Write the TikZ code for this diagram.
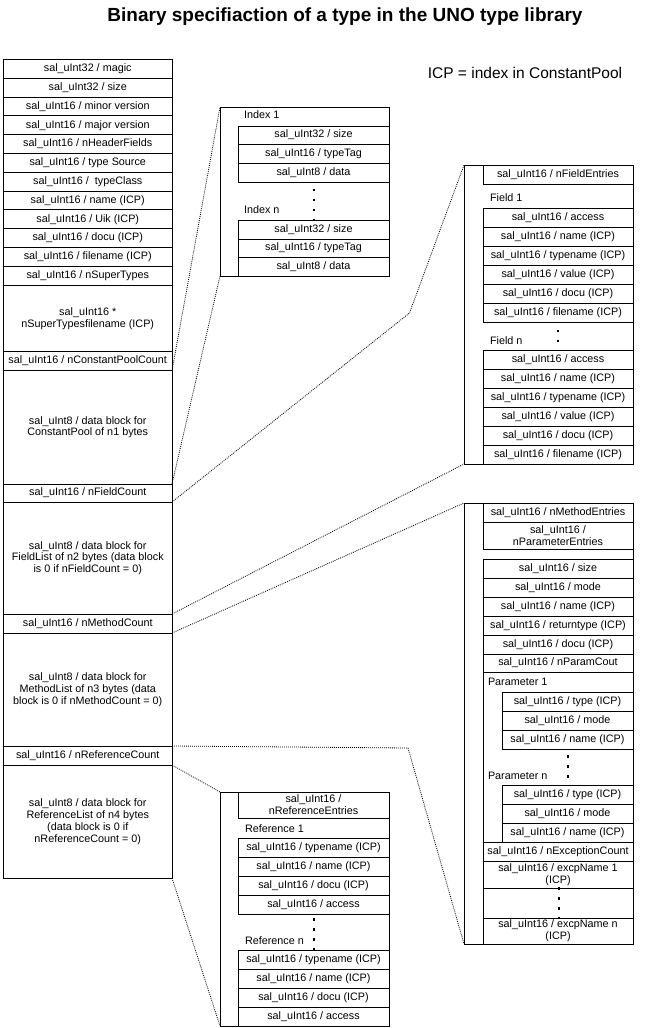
\documentclass[tikz,border=0pt]{standalone}
\usepackage{fontspec}
\setmainfont{Liberation Sans}
\newcommand{\cellbox}[6]{%
  \pgfmathsetmacro{\mycw}{#4-#2}\pgfmathsetmacro{\mych}{#5-#3}%
  \node[cell, minimum width=\mycw pt, minimum height=\mych pt, anchor=north west] (#1) at (#2,#3) {#6};}
\begin{document}
\begin{tikzpicture}[x=1pt,y=-1pt,
  every node/.style={font=\fontsize{10.8}{11.8}\selectfont, inner sep=0pt, outer sep=0pt},
  cell/.style={draw, line width=0.9pt, align=center},
  lbl/.style={anchor=west},
  conn/.style={line width=0.8pt, dash pattern=on 0.9pt off 1.1pt},
  vdots/.style={line width=2pt, dash pattern=on 2.5pt off 7.5pt}]
\useasboundingbox (0,0) rectangle (664,1028);

% titles
\node[font=\bfseries\fontsize{19}{22}\selectfont] (title) at (345,17) {Binary specifiaction of a type in the UNO type library};
\node[font=\fontsize{15.5}{18}\selectfont] (icp) at (525,73) {ICP = index in ConstantPool};

% left column
\cellbox{magic}{3.5}{59.5}{172}{78.3}{sal\_uInt32 / magic}
\cellbox{size}{3.5}{78.3}{172}{97.1}{sal\_uInt32 / size}
\cellbox{minor}{3.5}{97.1}{172}{115.9}{sal\_uInt16 / minor version}
\cellbox{major}{3.5}{115.9}{172}{134.7}{sal\_uInt16 / major version}
\cellbox{nhf}{3.5}{134.7}{172}{153.5}{sal\_uInt16 / nHeaderFields}
\cellbox{tsrc}{3.5}{153.5}{172}{172.3}{sal\_uInt16 / type Source}
\cellbox{tcls}{3.5}{172.3}{172}{191.1}{sal\_uInt16 /\ \ typeClass}
\cellbox{name}{3.5}{191.1}{172}{209.9}{sal\_uInt16 / name (ICP)}
\cellbox{uik}{3.5}{209.9}{172}{228.7}{sal\_uInt16 / Uik (ICP)}
\cellbox{docu}{3.5}{228.7}{172}{247.5}{sal\_uInt16 / docu (ICP)}
\cellbox{fname}{3.5}{247.5}{172}{266.3}{sal\_uInt16 / filename (ICP)}
\cellbox{nst}{3.5}{266.3}{172}{285.5}{sal\_uInt16 / nSuperTypes}
\cellbox{stf}{3.5}{285.5}{172}{351.5}{sal\_uInt16 *\\nSuperTypesfilename (ICP)}
\cellbox{cpc}{3.5}{351.5}{172}{370.5}{sal\_uInt16 / nConstantPoolCount}
\cellbox{cpdata}{3.5}{370.5}{172}{484}{sal\_uInt8 / data block for\\ConstantPool of n1 bytes}
\cellbox{fc}{3.5}{484}{172}{502}{sal\_uInt16 / nFieldCount}
\cellbox{fielddata}{3.5}{502}{172}{614}{sal\_uInt8 / data block for\\FieldList of n2 bytes (data block\\is 0 if nFieldCount = 0)}
\cellbox{mc}{3.5}{614}{172}{633}{sal\_uInt16 / nMethodCount}
\cellbox{methdata}{3.5}{633}{172}{746}{sal\_uInt8 / data block for\\MethodList of n3 bytes (data\\block is 0 if nMethodCount = 0)}
\cellbox{rc}{3.5}{746}{172}{765}{sal\_uInt16 / nReferenceCount}
\cellbox{refdata}{3.5}{765}{172}{878}{sal\_uInt8 / data block for\\ReferenceList of n4 bytes\\(data block is 0 if\\nReferenceCount = 0)}

% index box
\cellbox{idxbox}{220}{107}{389}{276}{}
\node[lbl] (idx1) at (244,115) {Index 1};
\cellbox{i1s}{238}{126}{389}{144.3}{sal\_uInt32 / size}
\cellbox{i1t}{238}{144.3}{389}{163.3}{sal\_uInt16 / typeTag}
\cellbox{i1d}{238}{163.3}{389}{182.3}{sal\_uInt8 / data}
\node[lbl] (idxn) at (244,210) {Index n};
\cellbox{ins}{238}{220}{389}{239}{sal\_uInt32 / size}
\cellbox{int}{238}{239}{389}{257.3}{sal\_uInt16 / typeTag}
\cellbox{ind}{238}{257.3}{389}{276}{sal\_uInt8 / data}
\draw[vdots] (314,188.5) -- (314,220);

% field box
\cellbox{fldbox}{464}{165}{633}{464}{}
\cellbox{nfe}{483}{165}{633}{184.3}{sal\_uInt16 / nFieldEntries}
\node[lbl] (f1) at (490,197.7) {Field 1};
\cellbox{f1a}{483}{208.3}{633}{227.3}{sal\_uInt16 / access}
\cellbox{f1n}{483}{227.3}{633}{246}{sal\_uInt16 / name (ICP)}
\cellbox{f1t}{483}{246}{633}{265}{sal\_uInt16 / typename (ICP)}
\cellbox{f1v}{483}{265}{633}{284}{sal\_uInt16 / value (ICP)}
\cellbox{f1d}{483}{284}{633}{303}{sal\_uInt16 / docu (ICP)}
\cellbox{f1f}{483}{303}{633}{322}{sal\_uInt16 / filename (ICP)}
\node[lbl] (fn) at (490,341) {Field n};
\cellbox{fna}{483}{350}{633}{369}{sal\_uInt16 / access}
\cellbox{fnn}{483}{369}{633}{388}{sal\_uInt16 / name (ICP)}
\cellbox{fnt}{483}{388}{633}{407}{sal\_uInt16 / typename (ICP)}
\cellbox{fnv}{483}{407}{633}{426}{sal\_uInt16 / value (ICP)}
\cellbox{fnd}{483}{426}{633}{445}{sal\_uInt16 / docu (ICP)}
\cellbox{fnf}{483}{445}{633}{464}{sal\_uInt16 / filename (ICP)}
\draw[vdots] (558,329.5) -- (558,350);

% method box
\cellbox{methbox}{464}{503}{633}{944}{}
\cellbox{nme}{483}{503}{633}{522}{sal\_uInt16 / nMethodEntries}
\cellbox{npe}{483}{522}{633}{549}{sal\_uInt16 /\\nParameterEntries}
\cellbox{mblk}{483}{559}{633}{944}{}
\cellbox{msz}{483}{559}{633}{578}{sal\_uInt16 / size}
\cellbox{mmo}{483}{578}{633}{597}{sal\_uInt16 / mode}
\cellbox{mna}{483}{597}{633}{616}{sal\_uInt16 / name (ICP)}
\cellbox{mrt}{483}{616}{633}{635}{sal\_uInt16 / returntype (ICP)}
\cellbox{mdo}{483}{635}{633}{654}{sal\_uInt16 / docu (ICP)}
\cellbox{mpc}{483}{654}{633}{672.3}{sal\_uInt16 / nParamCout}
\node[lbl] (p1) at (488,681.7) {Parameter 1};
\cellbox{p1t}{502}{692}{633}{711}{sal\_uInt16 / type (ICP)}
\cellbox{p1m}{502}{711}{633}{730}{sal\_uInt16 / mode}
\cellbox{p1n}{502}{730}{633}{749}{sal\_uInt16 / name (ICP)}
\node[lbl] (pn) at (488,775.5) {Parameter n};
\cellbox{pnt}{502}{785.5}{633}{804}{sal\_uInt16 / type (ICP)}
\cellbox{pnm}{502}{804}{633}{823}{sal\_uInt16 / mode}
\cellbox{pnn}{502}{823}{633}{842}{sal\_uInt16 / name (ICP)}
\cellbox{nec}{483}{842}{633}{861}{sal\_uInt16 / nExceptionCount}
\cellbox{ex1}{483}{861}{633}{888}{sal\_uInt16 / excpName 1\\(ICP)}
\cellbox{exb}{483}{888}{633}{918}{}
\cellbox{exn}{483}{918}{633}{944}{sal\_uInt16 / excpName n\\(ICP)}
\draw[vdots] (567.7,755) -- (567.7,785.5);
\draw[vdots] (559,887) -- (559,918);

% reference box
\cellbox{refbox}{220}{792}{389}{1026}{}
\cellbox{nre}{238}{792}{389}{818}{sal\_uInt16 /\\nReferenceEntries}
\node[lbl] (r1) at (245,829) {Reference 1};
\cellbox{r1t}{238}{838.3}{389}{857.3}{sal\_uInt16 / typename (ICP)}
\cellbox{r1n}{238}{857.3}{389}{876}{sal\_uInt16 / name (ICP)}
\cellbox{r1d}{238}{876}{389}{895}{sal\_uInt16 / docu (ICP)}
\cellbox{r1a}{238}{895}{389}{914}{sal\_uInt16 / access}
\node[lbl] (rn) at (245,940.7) {Reference n};
\cellbox{rnt}{238}{950}{389}{969}{sal\_uInt16 / typename (ICP)}
\cellbox{rnn}{238}{969}{389}{988}{sal\_uInt16 / name (ICP)}
\cellbox{rnd}{238}{988}{389}{1007}{sal\_uInt16 / docu (ICP)}
\cellbox{rna}{238}{1007}{389}{1026}{sal\_uInt16 / access}
\draw[vdots] (314.3,918) -- (314.3,950);

% connectors
\coordinate (fk) at (409.5,313);
\coordinate (mk) at (408,748);
\draw[conn] (cpdata.north east) -- (idxbox.north west);
\draw[conn] (cpdata.south east) -- (idxbox.south west);
\draw[conn] (fielddata.north east) -- (fk) -- (fldbox.north west);
\draw[conn] (fielddata.south east) -- (fldbox.south west);
\draw[conn] (methdata.north east) -- (methbox.north west);
\draw[conn] (methdata.south east) -- (mk) -- (methbox.south west);
\draw[conn] (refdata.north east) -- (refbox.north west);
\draw[conn] (refdata.south east) -- (refbox.south west);
\end{tikzpicture}
\end{document}
